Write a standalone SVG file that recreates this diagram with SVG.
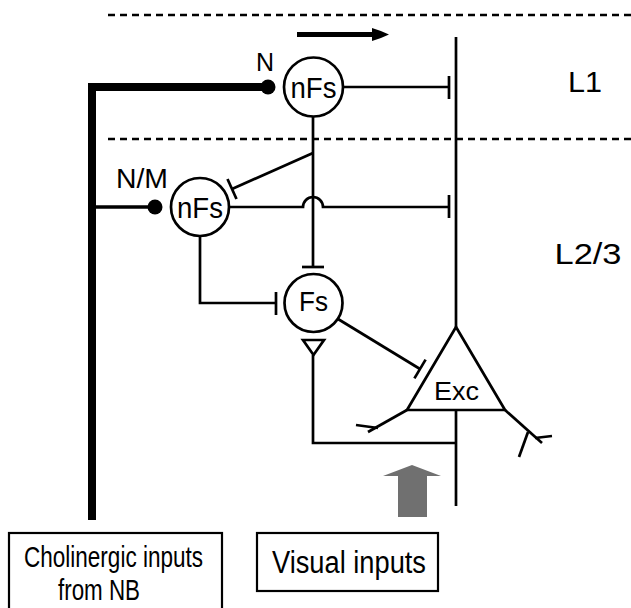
<svg xmlns="http://www.w3.org/2000/svg" width="631" height="608" viewBox="0 0 631 608">
<style>
  .ln{fill:none;stroke:#000;stroke-width:2.7;stroke-linecap:butt}
  .dash{fill:none;stroke:#000;stroke-width:2.7;stroke-dasharray:7 5}
  .cell{fill:#fff;stroke:#000;stroke-width:2.7}
  .t{font-family:"Liberation Sans",Arial,Helvetica,sans-serif;fill:#000;text-anchor:middle}
  .box{fill:#fff;stroke:#000;stroke-width:2.2}
</style>
<rect width="631" height="608" fill="#fff"/>

<g id="layers">
  <line class="dash" x1="108" y1="15" x2="631" y2="15"/>
  <line class="dash" x1="108" y1="139" x2="631" y2="139"/>
  <text class="t" x="585" y="92" font-size="29" textLength="34" lengthAdjust="spacingAndGlyphs">L1</text>
  <text class="t" x="588" y="264" font-size="30" textLength="67" lengthAdjust="spacingAndGlyphs">L2/3</text>
</g>

<g id="direction-arrow">
  <line x1="297" y1="34.5" x2="374" y2="34.5" stroke="#000" stroke-width="5"/>
  <path d="M372,28 Q382,31 389,34.5 Q382,38 372,41 Z" fill="#000"/>
</g>

<g id="connectors">
  <path d="M92,520 V87 H268" fill="none" stroke="#000" stroke-width="8" stroke-linejoin="miter"/>
  <line x1="92" y1="207" x2="155" y2="207" stroke="#000" stroke-width="3.5"/>
  <circle cx="268" cy="87" r="7.5" fill="#000"/>
  <circle cx="155" cy="207" r="7.5" fill="#000"/>

  <line class="ln" x1="343" y1="87" x2="449" y2="87"/>
  <line class="ln" x1="449" y1="76" x2="449" y2="99"/>

  <line class="ln" x1="313" y1="117" x2="313" y2="267"/>
  <line class="ln" x1="302" y1="267" x2="324" y2="267"/>

  <line class="ln" x1="313" y1="153" x2="232" y2="189"/>
  <line class="ln" x1="227.5" y1="179" x2="236.5" y2="199"/>

  <path class="ln" d="M229,207 H303 A10,10 0 0 1 323,207 H449"/>
  <line class="ln" x1="449" y1="195" x2="449" y2="218"/>

  <path class="ln" d="M200,236 V303 H276"/>
  <line class="ln" x1="276" y1="292" x2="276" y2="315"/>

  <line class="ln" x1="338" y1="319" x2="420" y2="369"/>
  <line class="ln" x1="414.4" y1="378.4" x2="425.6" y2="359.6"/>

  <line class="ln" x1="456" y1="37" x2="456" y2="327"/>
  <line class="ln" x1="456" y1="410" x2="456" y2="506"/>
  <path class="ln" d="M456,443 H313 V355"/>
  <polygon class="ln" points="303,340 324,340 313.5,355"/>

  <polyline class="ln" points="407,410 368,432"/>
  <line class="ln" x1="356" y1="425" x2="378" y2="428"/>
  <polyline class="ln" points="505,410 542,443"/>
  <line class="ln" x1="528" y1="432" x2="519" y2="457"/>
  <line class="ln" x1="535" y1="438" x2="552" y2="436"/>

  <polygon points="412,465 441,476 427,476 427,517 398,517 398,476 383,476" fill="#707070"/>
</g>

<g id="nFs-L1">
  <circle class="cell" cx="313.5" cy="87" r="29.5"/>
  <text class="t" x="313.5" y="97.5" font-size="29" textLength="46" lengthAdjust="spacingAndGlyphs">nFs</text>
  <text class="t" x="265" y="71" font-size="25">N</text>
</g>

<g id="nFs-L23">
  <circle class="cell" cx="200" cy="207" r="29"/>
  <text class="t" x="200" y="217.5" font-size="29" textLength="46" lengthAdjust="spacingAndGlyphs">nFs</text>
  <text class="t" x="142" y="188" font-size="27" textLength="52" lengthAdjust="spacingAndGlyphs">N/M</text>
</g>

<g id="Fs">
  <circle class="cell" cx="313.5" cy="303" r="29"/>
  <text class="t" x="313.5" y="311" font-size="27" textLength="29" lengthAdjust="spacingAndGlyphs">Fs</text>
</g>

<g id="Exc">
  <polygon class="cell" points="456,327 407,410 505,410" stroke-linejoin="miter"/>
  <text class="t" x="456.5" y="400" font-size="26" textLength="45" lengthAdjust="spacingAndGlyphs">Exc</text>
</g>

<g id="cholinergic-box">
  <rect class="box" x="9" y="533" width="213" height="82"/>
  <text class="t" x="113.5" y="567" font-size="29" textLength="179" lengthAdjust="spacingAndGlyphs">Cholinergic inputs</text>
  <text class="t" x="99" y="600" font-size="29" textLength="82" lengthAdjust="spacingAndGlyphs">from NB</text>
</g>

<g id="visual-box">
  <rect class="box" x="257" y="533" width="181" height="58"/>
  <text class="t" x="349" y="573" font-size="31" textLength="154" lengthAdjust="spacingAndGlyphs">Visual inputs</text>
</g>
</svg>
